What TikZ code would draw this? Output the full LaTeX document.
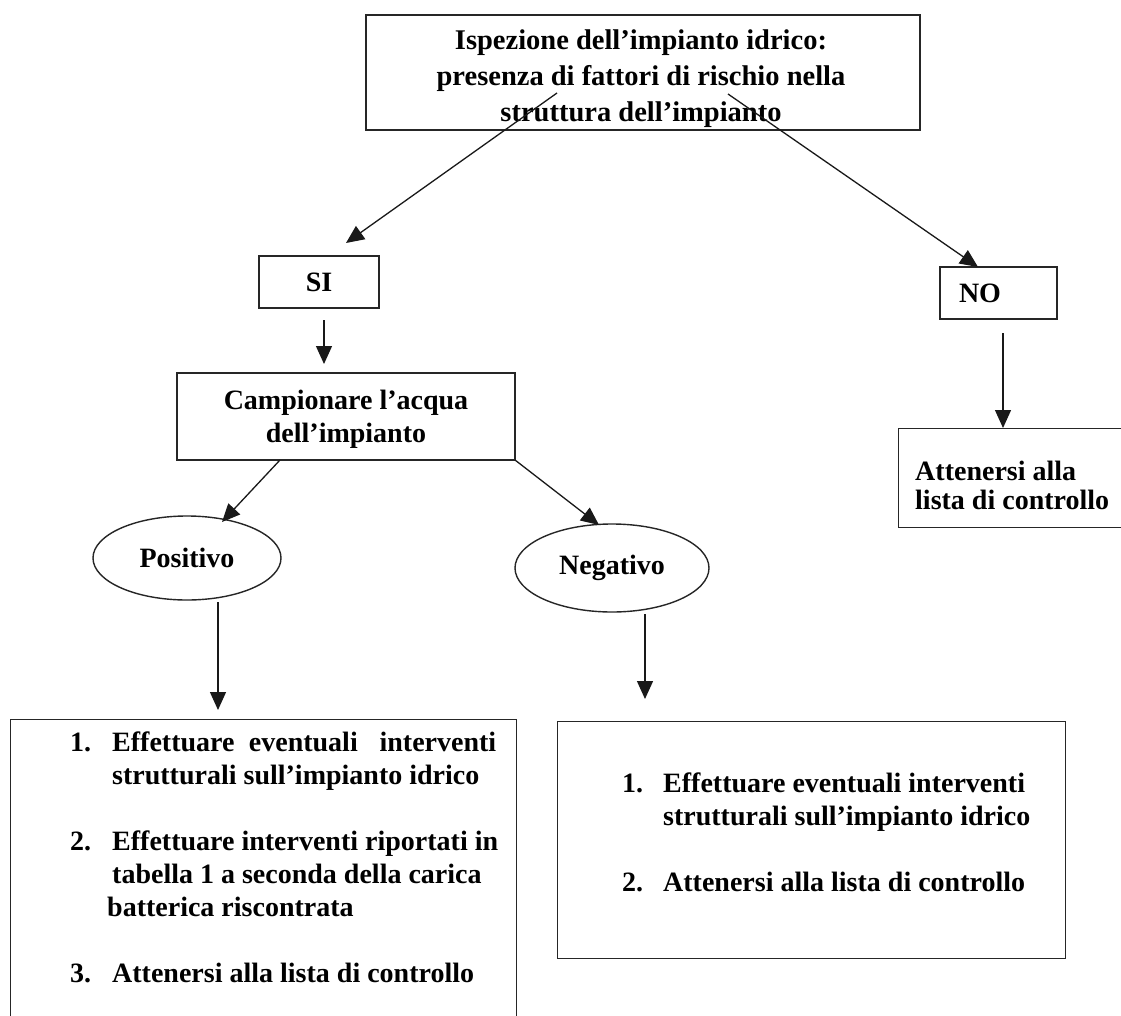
\documentclass[tikz,border=0pt]{standalone}
\usepackage{fontspec}
\setmainfont{Liberation Serif}
\usetikzlibrary{arrows.meta,shapes.geometric}
\begin{document}
\begin{tikzpicture}[x=1pt,y=-1pt,
  boxframe/.style={draw=black!85, line width=1.4pt, inner sep=0pt},
  txt/.style={inner sep=0pt, font=\bfseries\fontsize{28}{33}\selectfont},
  arr/.style={draw=black!90, line width=1.3pt, -{Triangle[length=18pt,width=16pt]}},
  oval/.style={draw=black!85, line width=1.4pt, ellipse, inner sep=0pt}]
\useasboundingbox (0,0) rectangle (1121,1016);
\fill[white] (0,0) rectangle (1121,1016);
\clip (0,0) rectangle (1121,1016);

% top box
\node[boxframe, minimum width=554pt, minimum height=115pt] (top) at (643,72.5) {};
\node[txt, anchor=north] (toptext) at (641,24) {\fontsize{28.5}{36}\selectfont\begin{tabular}{@{}c@{}}Ispezione dell’impianto idrico:\\ presenza di fattori di rischio nella\\ struttura dell’impianto\end{tabular}};

% SI / NO
\node[boxframe, txt, minimum width=120pt, minimum height=52pt] (si) at (319,282) {SI};
\node[boxframe, txt, minimum width=117pt, minimum height=52pt, text width=79pt, align=left, inner xsep=19pt] (no) at (998.5,293) {NO};

% NO result
\node[boxframe, anchor=north west, minimum width=262pt, minimum height=99pt] (nores) at (898,428) {};
\node[txt, anchor=north west] (norestext) at (915,459.7) {\fontsize{28}{29}\selectfont\begin{tabular}{@{}l@{}}Attenersi alla\\ lista di controllo\end{tabular}};

% Campionare
\node[boxframe, minimum width=338pt, minimum height=87pt] (camp) at (346,416.5) {};
\node[txt, anchor=north] (camptext) at (346,386) {\begin{tabular}{@{}c@{}}Campionare l’acqua\\ dell’impianto\end{tabular}};

% ellipses
\node[oval, txt, minimum width=188pt, minimum height=84pt] (pos) at (187,558) {Positivo};
\node[oval, txt, minimum width=194pt, minimum height=88pt] (neg) at (612,568) {Negativo};

% left result box
\node[boxframe, anchor=north west, minimum width=506pt, minimum height=400pt] (lbox) at (10,719) {};
\node[txt, anchor=north west] (ltext) at (70,727.9) {\begin{tabular}{@{}l@{}l@{}}
\makebox[42pt][l]{1.} & \hbox to 384pt{Effettuare \hfill eventuali \hfill\hfill interventi}\\
 & strutturali sull’impianto idrico\\
 & \\
\makebox[42pt][l]{2.} & Effettuare interventi riportati in\\
 & tabella 1 a seconda della carica\\
 & \hspace{-5pt}batterica riscontrata\\
 & \\
\makebox[42pt][l]{3.} & Attenersi alla lista di controllo
\end{tabular}};

% right result box
\node[boxframe, anchor=north west, minimum width=508pt, minimum height=237pt] (rbox) at (557,721) {};
\node[txt, anchor=north west] (rtext) at (622,768.9) {\begin{tabular}{@{}l@{}l@{}}
\makebox[41pt][l]{1.} & Effettuare eventuali interventi\\
 & strutturali sull’impianto idrico\\
 & \\
\makebox[41pt][l]{2.} & Attenersi alla lista di controllo
\end{tabular}};

% connectors
\coordinate (a1s) at (557,93);  \coordinate (a1e) at (346,243);
\coordinate (a2s) at (728,94);  \coordinate (a2e) at (978,267);
\coordinate (a3s) at (324,320); \coordinate (a3e) at (324,364);
\coordinate (a4s) at (1003,333); \coordinate (a4e) at (1003,428);
\coordinate (a5s) at (280,460); \coordinate (a5e) at (222,522);
\coordinate (a6s) at (515,460); \coordinate (a6e) at (599,525);
\coordinate (a7s) at (218,602); \coordinate (a7e) at (218,710);
\coordinate (a8s) at (645,614); \coordinate (a8e) at (645,699);
\draw[arr] (a1s) -- (a1e);
\draw[arr] (a2s) -- (a2e);
\draw[arr] (a3s) -- (a3e);
\draw[arr] (a4s) -- (a4e);
\draw[arr] (a5s) -- (a5e);
\draw[arr] (a6s) -- (a6e);
\draw[arr] (a7s) -- (a7e);
\draw[arr] (a8s) -- (a8e);
\end{tikzpicture}
\end{document}
